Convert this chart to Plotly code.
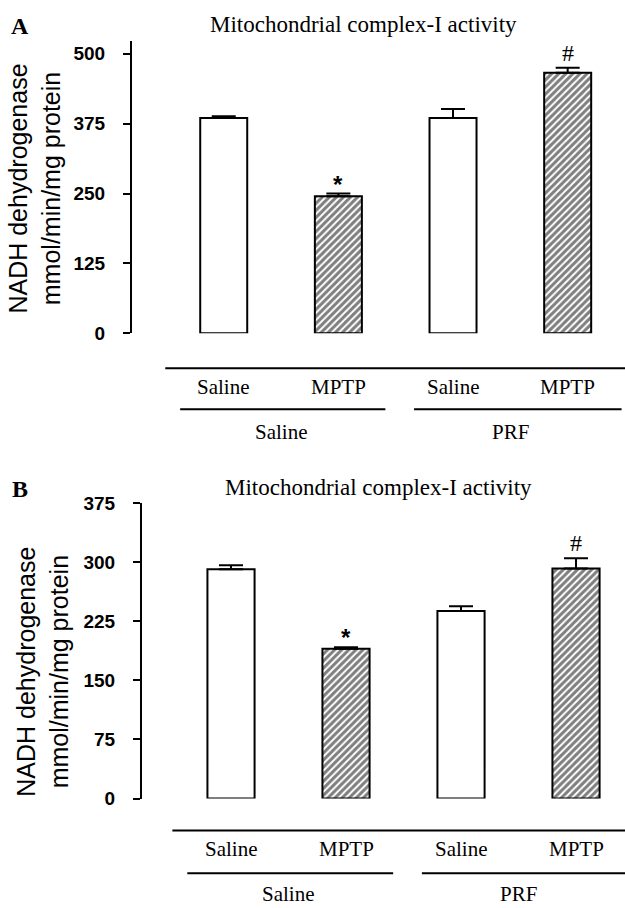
import plotly.graph_objects as go

# ---------------- data ----------------
categories = ["Saline", "MPTP", "Saline", "MPTP"]
groups = ["Saline", "PRF"]
group_centers = [0.5, 2.5]
patterns = ["", "/", "", "/"]

a_values = [385, 245, 385, 466]
a_errors = [3, 5, 16, 9]
a_marks = ["", "*", "", "#"]
a_ticks = [0, 125, 250, 375, 500]

b_values = [291, 190, 238, 292]
b_errors = [5, 2, 6, 13]
b_marks = ["", "*", "", "#"]
b_ticks = [0, 75, 150, 225, 300, 375]

title_text = "Mitochondrial complex-I activity"
ytitle_text = "NADH dehydrogenase<br>mmol/min/mg protein"

W, H = 625, 908
SERIF = "Liberation Serif, Times New Roman, serif"
SANS = "Liberation Sans, Arial, sans-serif"


def px(x):
    return x / W


def py(y):
    # vertical placement helper (pixel row -> paper fraction), with a small
    # empirical calibration for the page offset
    yy = (y - 9.1) / 0.9786
    return 1 - yy / H


xs = list(range(len(categories)))

fig = go.Figure()


def add_bars(values, errors, xa, ya):
    fig.add_trace(go.Bar(
        x=xs, y=values, width=0.41,
        xaxis=xa, yaxis=ya,
        marker=dict(color="white",
                    line=dict(color="black", width=2),
                    pattern=dict(shape=patterns, fgcolor="black", bgcolor="white",
                                 size=5, solidity=0.6)),
        error_y=dict(type="data", array=errors, arrayminus=[0] * len(errors),
                     symmetric=False, color="black", thickness=2, width=12),
        showlegend=False, hoverinfo="skip",
    ))


add_bars(a_values, a_errors, "x", "y")
add_bars(b_values, b_errors, "x2", "y2")

axis_y_common = dict(showline=True, linecolor="black", linewidth=2,
                     ticks="outside", ticklen=7, tickwidth=2, tickcolor="black",
                     showgrid=False, zeroline=False,
                     tickfont=dict(family=SANS, size=19, color="black", weight="bold"),
                     ticklabelstandoff=14)
axis_x_common = dict(showline=False, showticklabels=False, ticks="",
                     showgrid=False, zeroline=False)

fig.update_layout(
    width=W, height=H,
    margin=dict(l=0, r=0, t=0, b=0),
    paper_bgcolor="white", plot_bgcolor="white",
    xaxis=dict(domain=[px(132), 1], range=[-0.80, 3.50], anchor="y", **axis_x_common),
    yaxis=dict(domain=[py(333), py(40)], range=[0, 523], anchor="x",
               tickvals=a_ticks, **axis_y_common),
    xaxis2=dict(domain=[px(142), 1], range=[-0.774, 3.426], anchor="y2", **axis_x_common),
    yaxis2=dict(domain=[py(799), py(503)], range=[0, 375], anchor="x2",
                tickvals=b_ticks, **axis_y_common),
)

annotations = []
shapes = []


def panel_decor(letter, xref, title_xy, letter_xy, ytitle_xy, marks, values, errors,
                line1_y, lab_y, line2_y, grp_y):
    yref_data = xref.replace("x", "y")
    annotations.append(dict(text="<b>%s</b>" % letter, xref="paper", yref="paper",
                            x=px(letter_xy[0]), y=py(letter_xy[1]), showarrow=False,
                            xanchor="center", yanchor="middle",
                            font=dict(family=SERIF, size=24, color="black")))
    annotations.append(dict(text=title_text, xref="paper", yref="paper",
                            x=px(title_xy[0]), y=py(title_xy[1]), showarrow=False,
                            xanchor="center", yanchor="middle",
                            font=dict(family=SERIF, size=23, color="black")))
    annotations.append(dict(text=ytitle_text, xref="paper", yref="paper",
                            x=px(ytitle_xy[0]), y=py(ytitle_xy[1]), showarrow=False,
                            textangle=-90, xanchor="center", yanchor="middle",
                            font=dict(family=SANS, size=25, color="black")))
    for i, m in enumerate(marks):
        if m == "*":
            annotations.append(dict(text="<b>*</b>", xref=xref, yref=yref_data,
                                    x=i, y=values[i] + errors[i], showarrow=False,
                                    xanchor="center", yanchor="bottom", yshift=-6,
                                    font=dict(family=SANS, size=24, color="black")))
        elif m:
            annotations.append(dict(text=m, xref=xref, yref=yref_data,
                                    x=i, y=values[i] + errors[i], showarrow=False,
                                    xanchor="center", yanchor="bottom", yshift=0,
                                    font=dict(family=SERIF, size=24, color="black")))
    for i, c in enumerate(categories):
        annotations.append(dict(text=c, xref=xref, yref="paper", x=i, y=py(lab_y),
                                showarrow=False, xanchor="center", yanchor="middle",
                                font=dict(family=SERIF, size=21, color="black")))
    for gx, g in zip(group_centers, groups):
        annotations.append(dict(text=g, xref=xref, yref="paper", x=gx, y=py(grp_y),
                                showarrow=False, xanchor="center", yanchor="middle",
                                font=dict(family=SERIF, size=21, color="black")))
    shapes.append(dict(type="line", xref=xref, yref="paper", x0=-0.51, x1=3.6,
                       y0=py(line1_y), y1=py(line1_y), line=dict(color="black", width=2)))
    for (s0, s1) in [(-0.38, 1.41), (1.66, 3.47)]:
        shapes.append(dict(type="line", xref=xref, yref="paper", x0=s0, x1=s1,
                           y0=py(line2_y), y1=py(line2_y), line=dict(color="black", width=2)))


panel_decor("A", "x", (363, 24), (20, 25), (35, 188), a_marks, a_values, a_errors,
            368, 387, 409, 432)
panel_decor("B", "x2", (378, 487), (20, 489), (43, 672), b_marks, b_values, b_errors,
            831, 850, 874, 895)

fig.update_layout(annotations=annotations, shapes=shapes)

fig.write_html("out.html",
               config={"displayModeBar": False},
               post_script="document.body.style.margin='0';document.body.style.overflow='hidden';")
